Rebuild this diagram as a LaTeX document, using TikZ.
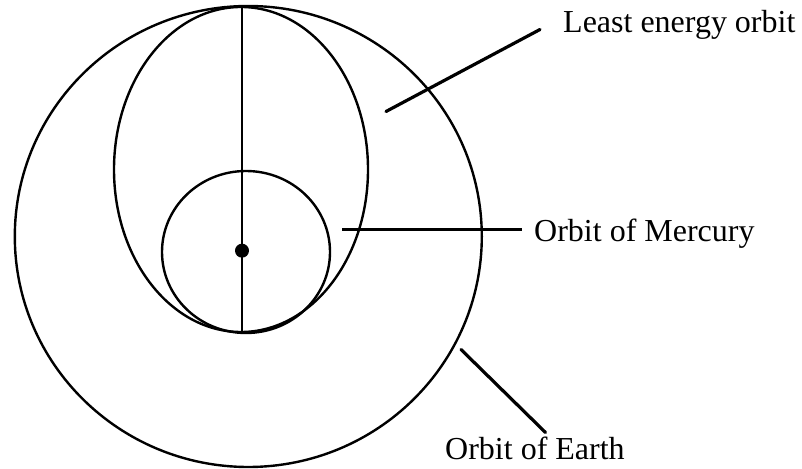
\documentclass[tikz,border=0pt]{standalone}
\usepackage{fontspec}
\setmainfont{Liberation Serif}

\begin{document}
\begin{tikzpicture}[x=0.5pt,y=-0.5pt,line width=1.2pt,
  orbitlabel/.style={anchor=base west,inner sep=0pt,font=\fontsize{16}{19}\selectfont},
  leader/.style={line width=1.6pt,line cap=round}]
\useasboundingbox (0,0) rectangle (802,469);
% orbits
\draw (248.3,236.5) ellipse [x radius=233.5,y radius=230.5];
\draw (241,169.5) ellipse [x radius=127,y radius=162.5];
\draw (246,252) ellipse [x radius=84,y radius=81];
\coordinate (top) at (242,7);
\coordinate (bot) at (242,332);
\draw (top)--(bot);
\fill (242,250.7) circle [radius=7];
% labels
\node[orbitlabel] (least) at (562,33) {Least energy orbit};
\node[orbitlabel] (merc) at (533,242) {Orbit of Mercury};
\node[orbitlabel] (earth) at (444,459) {Orbit of Earth};
\coordinate (l1) at (386,111.5);
\coordinate (l2) at (540,29.5);
\coordinate (m1) at (342,229.3);
\coordinate (m2) at (522,229.3);
\coordinate (e1) at (461,349.5);
\coordinate (e2) at (545.5,432.5);
\draw[leader] (l1)--(l2);
\draw[line width=1.3pt] (m1)--(m2);
\draw[leader] (e1)--(e2);
\end{tikzpicture}
\end{document}
